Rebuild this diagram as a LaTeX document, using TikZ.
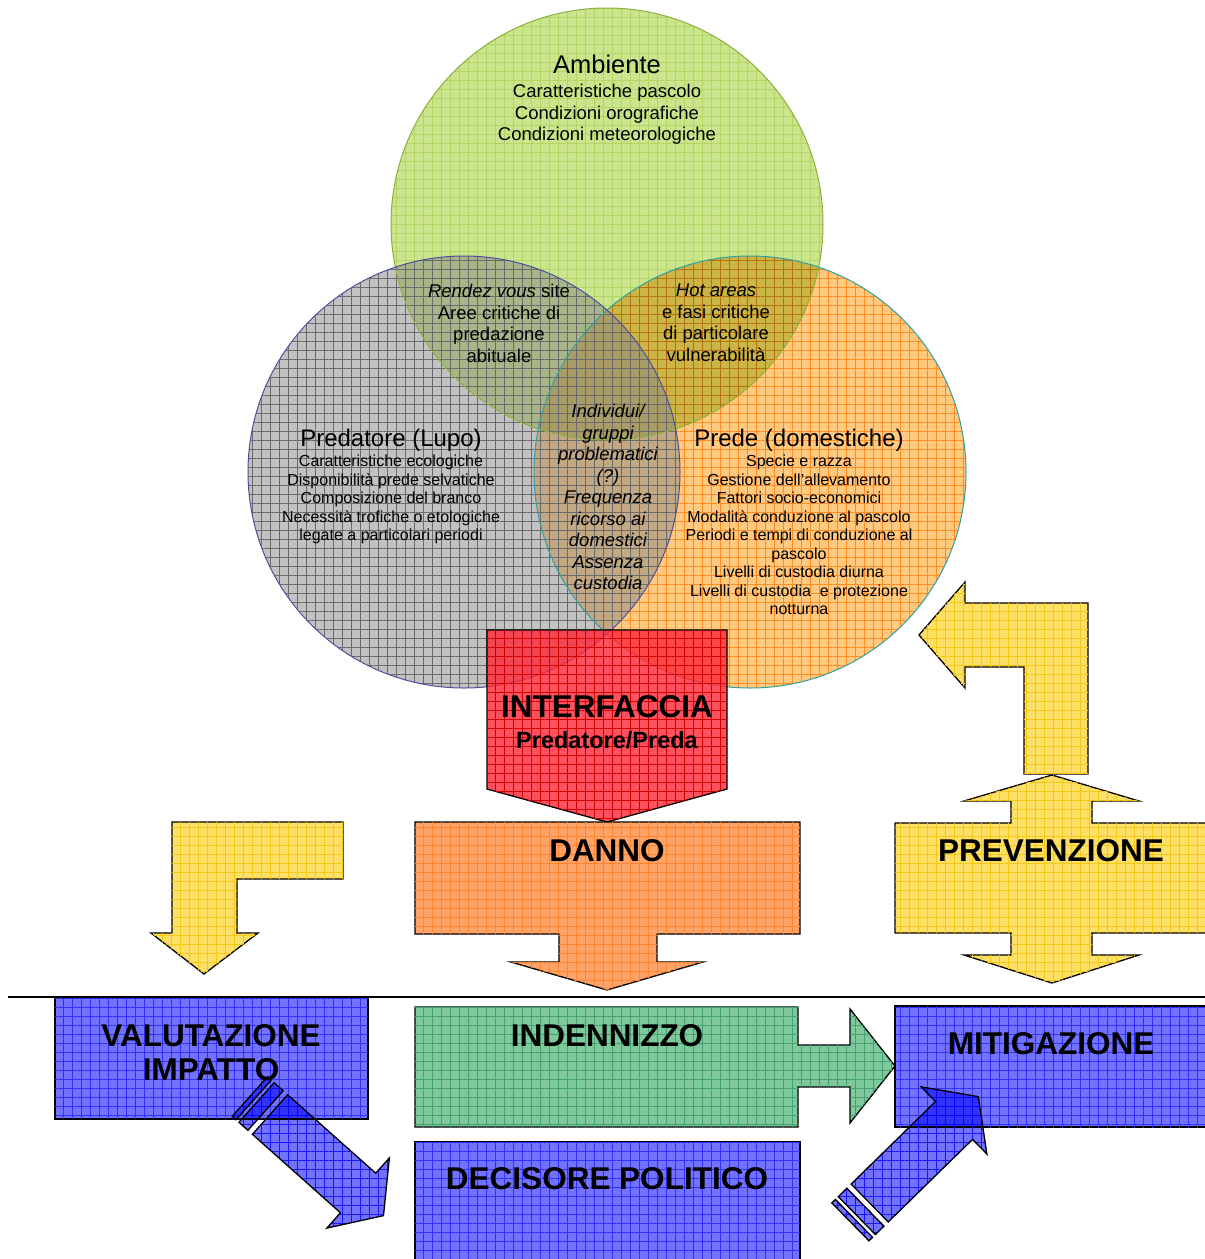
\documentclass[tikz,border=0pt]{standalone}
\usepackage{fontspec}
\setmainfont{Liberation Sans}
\usetikzlibrary{patterns.meta}
\definecolor{grC}{HTML}{CBE58C}\definecolor{grB}{HTML}{8DB040}\definecolor{grG}{HTML}{B2D565}
\definecolor{gyC}{HTML}{878787}\definecolor{gyB}{HTML}{4F4FA0}\definecolor{gyG}{HTML}{6A6A6A}
\definecolor{orC}{HTML}{FFCA80}\definecolor{orB}{HTML}{30A0A0}\definecolor{orG}{HTML}{FFB04A}
\definecolor{rdC}{HTML}{FF2535}\definecolor{rdG}{HTML}{D00000}
\definecolor{daC}{HTML}{FFA366}\definecolor{daG}{HTML}{FF8530}
\definecolor{yeC}{HTML}{FFE066}\definecolor{yeG}{HTML}{F5C818}
\definecolor{gbC}{HTML}{7DC99B}\definecolor{gbG}{HTML}{45A070}
\definecolor{blC}{HTML}{7272FF}\definecolor{blG}{HTML}{3030FF}
\tikzset{
  gridov/.style={postaction={pattern={Hatch[distance=9pt,angle=0,line width=0.4pt]},pattern color=#1}},
  blk/.style={draw=black,line width=1.3pt,line join=miter},
  mul/.style={blend mode=multiply},
  ttl/.style={font=\fontsize{24}{28}\selectfont,inner sep=0pt,anchor=north,align=center},
  txt/.style={font=\fontsize{18.5}{21.5}\selectfont,inner sep=0pt,anchor=north,align=center},
  sml/.style={font=\fontsize{16}{18.5}\selectfont,inner sep=0pt,anchor=north,align=center},
  bigl/.style={font=\bfseries\fontsize{31.5}{34}\selectfont,inner sep=0pt,align=center},
  stripearrow/.pic={
    \path[blk,fill=blC,mul,gridov=blG] (0,-26.5) -- (118,-26.5) -- (118,-47) -- (152,0) -- (118,47) -- (118,26.5) -- (0,26.5) -- cycle;
    \path[blk,fill=blC,mul,gridov=blG] (-18,-26.5) rectangle (-6,26.5);
    \path[blk,fill=blC,mul,gridov=blG] (-27,-26.5) rectangle (-22,26.5);
  }
}
\begin{document}
\begin{tikzpicture}[x=1pt,y=-1pt]
\useasboundingbox (0,0) rectangle (1205,1259);
\clip (0,0) rectangle (1205,1259);
\fill[white] (0,0) rectangle (1205,1259);

% circles
\path[fill=grC,gridov=grG] (607,224) circle[radius=216pt];
\path[fill=orC,mul,gridov=orG] (750,472) circle[radius=216pt];
\path[fill=gyC,fill opacity=0.5,gridov=gyG] (464,472) circle[radius=216pt];
\draw[grB,line width=1pt] (607,224) circle[radius=216pt];
\draw[orB,line width=1pt] (750,472) circle[radius=216pt];
\draw[gyB,line width=1pt] (464,472) circle[radius=216pt];

% red interface box (over circles, translucent)
\path[blk,fill=rdC,fill opacity=0.8,gridov=rdG] (487,630) -- (727,630) -- (727,789) -- (607,822) -- (487,789) -- cycle;

% circle texts
\node[ttl,font=\fontsize{25.5}{28}\selectfont] (amb) at (607,55) {Ambiente};
\node[txt] (ambt) at (607,84) {Caratteristiche pascolo\\Condizioni orografiche\\Condizioni meteorologiche};
\node[txt] (rdv) at (499,284) {\textit{Rendez vous} site\\Aree critiche di\\predazione\\abituale};
\node[txt] (hot) at (716,284) {\textit{Hot areas}\\e fasi critiche\\di particolare\\vulnerabilità};
\node[txt,font=\itshape\fontsize{18.5}{21.5}\selectfont] (ind) at (608,404) {Individui/\\gruppi\\problematici\\(?)\\Frequenza\\ricorso ai\\domestici\\Assenza\\custodia};
\node[ttl] (pred) at (391,429) {Predatore (Lupo)};
\node[sml] (predt) at (391,455) {Caratteristiche ecologiche\\Disponibilità prede selvatiche\\Composizione del branco\\Necessità trofiche o etologiche\\legate a particolari periodi};
\node[ttl] (prd) at (799,429) {Prede (domestiche)};
\node[sml] (prdt) at (799,455) {Specie e razza\\Gestione dell’allevamento\\Fattori socio-economici\\Modalità conduzione al pascolo\\Periodi e tempi di conduzione al\\pascolo\\Livelli di custodia diurna\\Livelli di custodia~ e protezione\\notturna};

\node[bigl] (intf) at (607,707) {INTERFACCIA};
\node[bigl,font=\bfseries\fontsize{23.5}{26}\selectfont] (intf2) at (607,740) {Predatore/Preda};

% DANNO
\path[blk,fill=daC,gridov=daG] (415,822) -- (800,822) -- (800,934) -- (657,934) -- (657,962) -- (703,962) -- (607,990) -- (511,962) -- (559,962) -- (559,934) -- (415,934) -- cycle;
\node[bigl] (danno) at (607,851) {DANNO};

% yellow arrows
\path[blk,fill=yeC,gridov=yeG] (172,822) -- (343,822) -- (343,879) -- (237,879) -- (237,933) -- (258,933) -- (204,974) -- (151,933) -- (172,933) -- cycle;
\path[blk,fill=yeC,gridov=yeG] (919,635) -- (965,582) -- (965,603) -- (1088,603) -- (1088,774) -- (1024,774) -- (1024,667) -- (965,667) -- (965,688) -- cycle;
\path[blk,fill=yeC,gridov=yeG] (1052,775) -- (1139,801) -- (1092,801) -- (1092,823) -- (1215,823) -- (1215,933) -- (1092,933) -- (1092,955) -- (1139,955) -- (1052,983) -- (964,955) -- (1011,955) -- (1011,933) -- (895,933) -- (895,823) -- (1011,823) -- (1011,801) -- (964,801) -- cycle;
\node[bigl] (prev) at (1051,851) {PREVENZIONE};

% separator line
\draw[line width=2.6pt] (8,997) -- (1215,997);

% bottom boxes
\path[blk,fill=blC,gridov=blG] (55,998) rectangle (368,1119);
\node[bigl] (valu) at (211,1053) {VALUTAZIONE\\IMPATTO};
\path[blk,fill=gbC,gridov=gbG] (415,1007) -- (798,1007) -- (798,1045) -- (850,1045) -- (850,1009) -- (895,1066) -- (850,1123) -- (850,1087) -- (798,1087) -- (798,1127) -- (415,1127) -- cycle;
\node[bigl] (inden) at (607,1036) {INDENNIZZO};
\path[blk,fill=blC,gridov=blG] (895,1006) rectangle (1215,1127);
\node[bigl] (miti) at (1051,1044) {MITIGAZIONE};
\path[blk,fill=blC,gridov=blG] (415,1142) rectangle (800,1275);
\node[bigl] (deci) at (607,1179) {DECISORE POLITICO};

% striped arrows
\pic[shift={(270,1114.5)},rotate=-41.7] {stripearrow};
\pic[shift={(869.7,1203)},rotate=44.4] {stripearrow};
\end{tikzpicture}
\end{document}
